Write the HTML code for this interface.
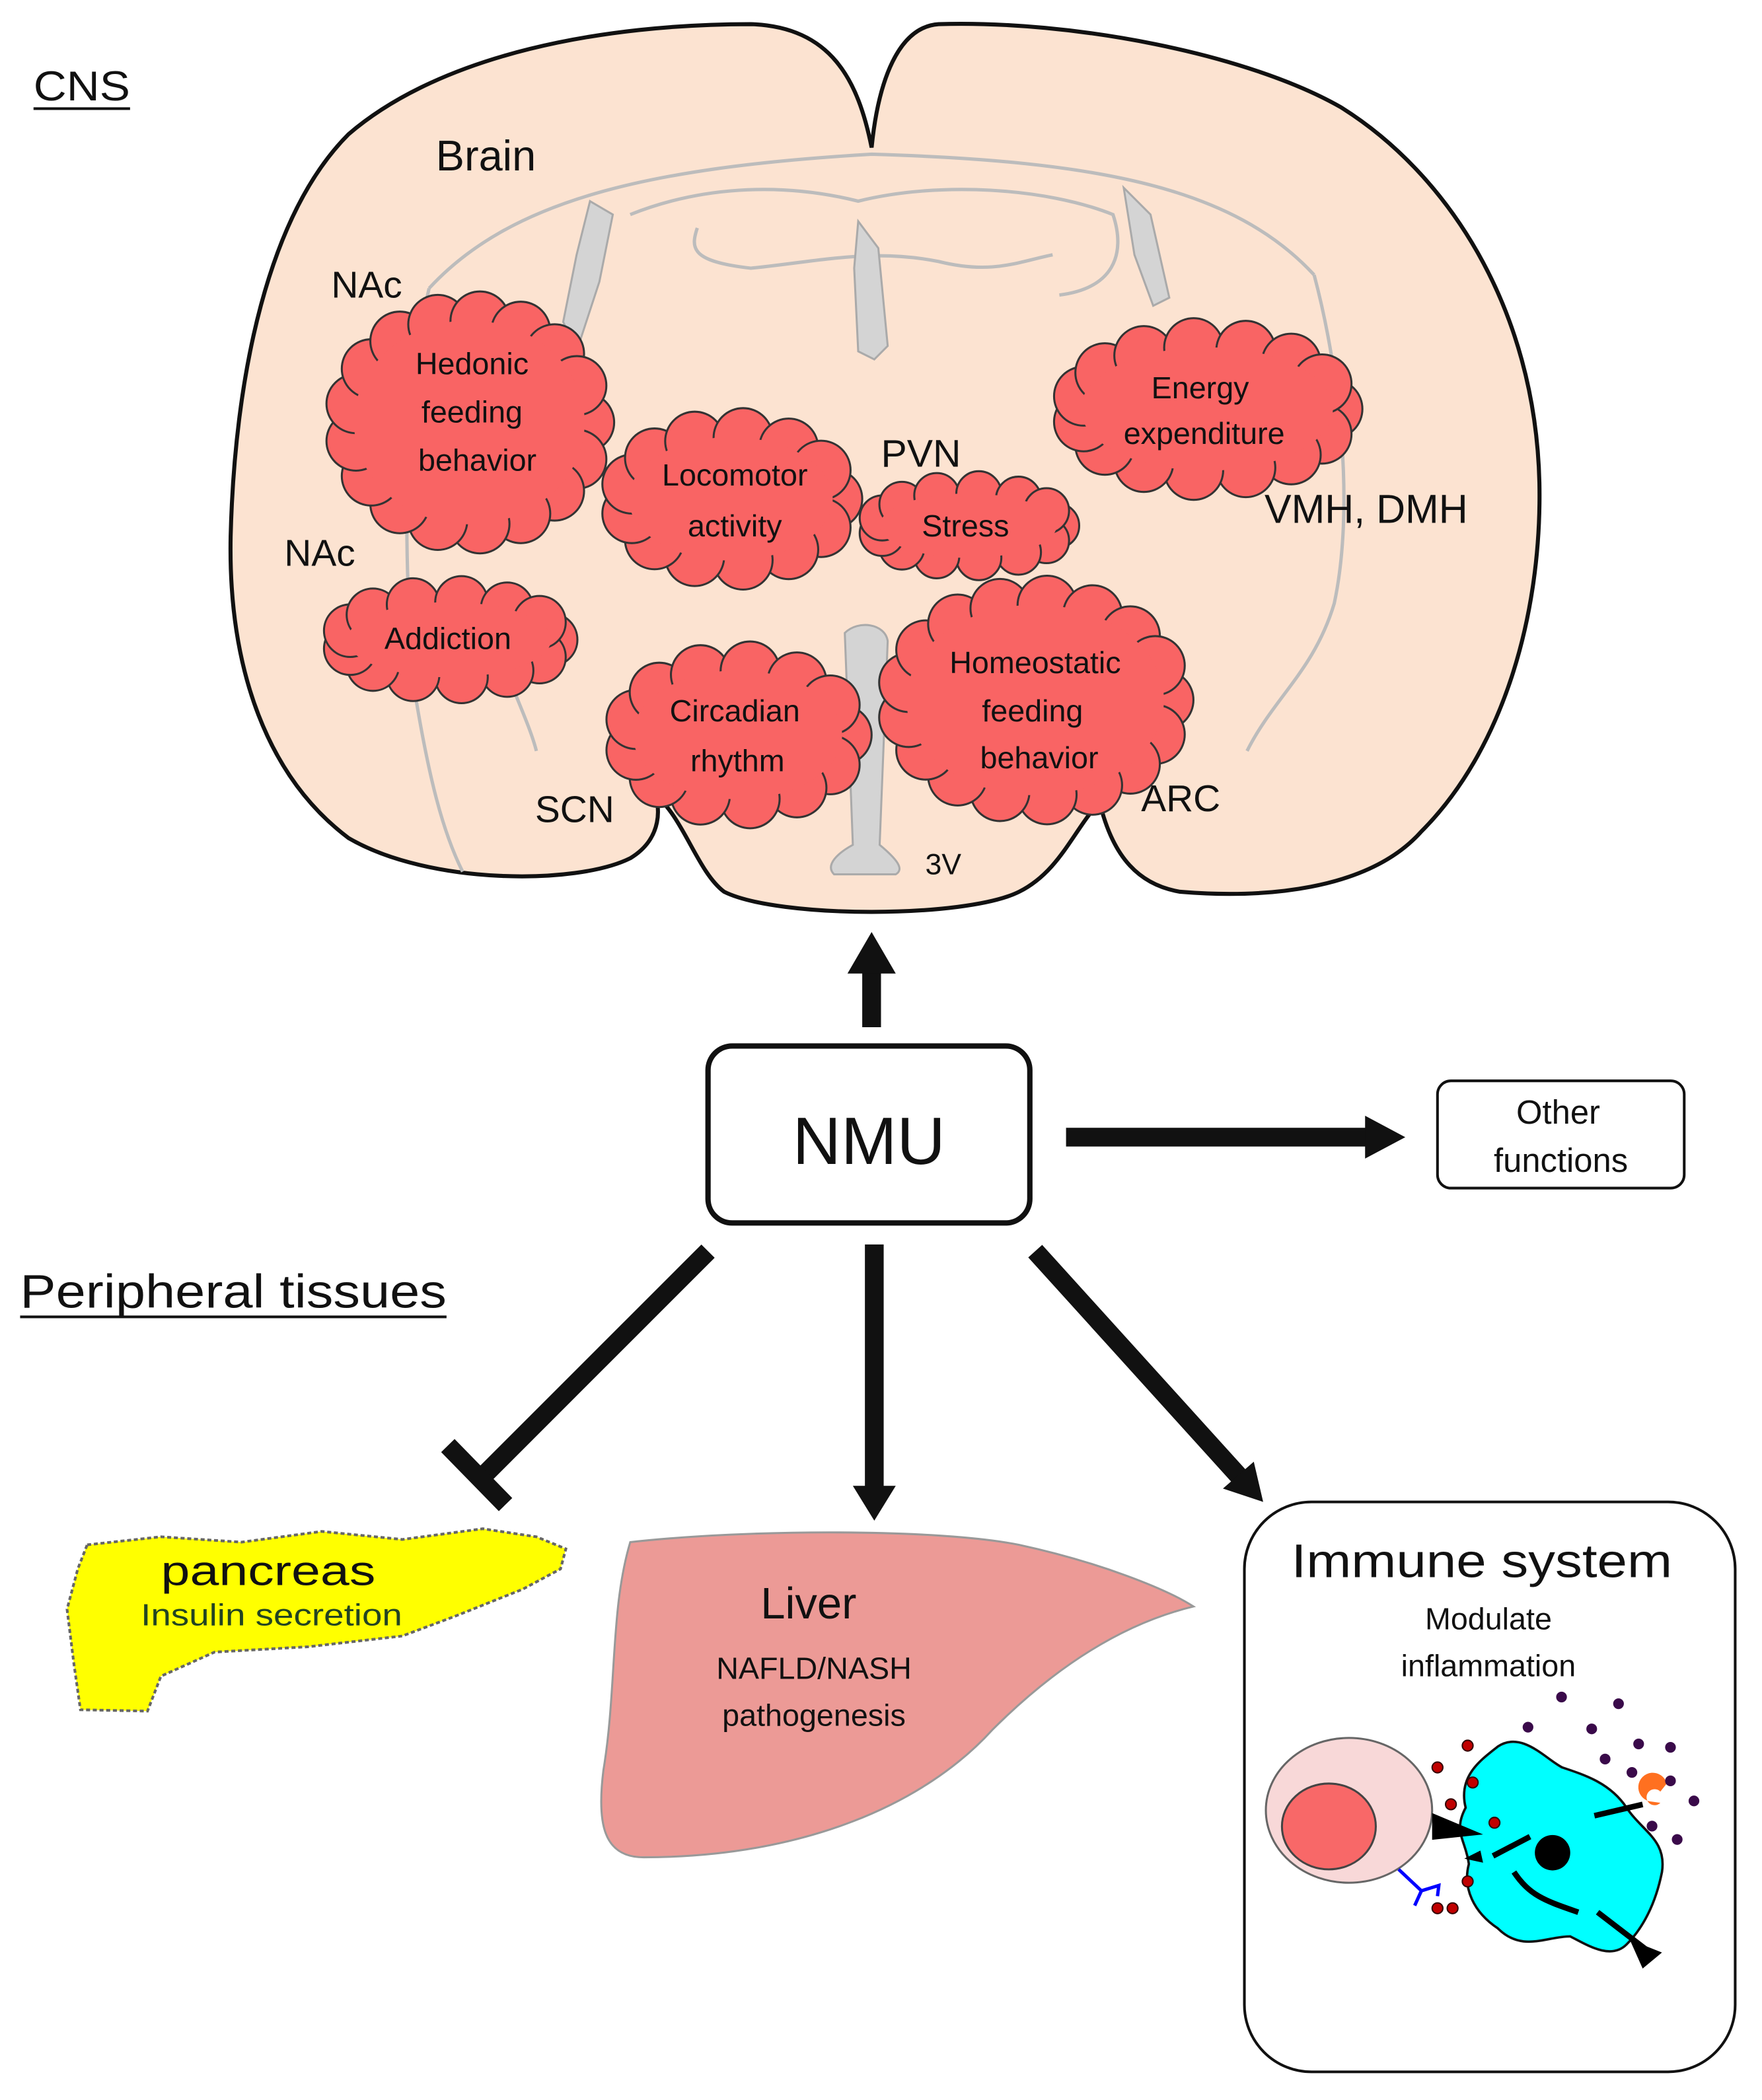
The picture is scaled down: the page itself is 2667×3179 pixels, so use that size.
<!DOCTYPE html>
<html><head><meta charset="utf-8"><style>
html,body{margin:0;padding:0;background:#fff}
svg{display:block}
text{font-family:"Liberation Sans",sans-serif}
</style></head><body>
<svg id="s" width="2667" height="3179" viewBox="0 0 1314 1566" preserveAspectRatio="none" xmlns="http://www.w3.org/2000/svg">
<rect width="1314" height="1566" fill="#fff"/>
<path d="M650,110 C640,60 620,20 560,18 C450,18 330,40 260,100 C200,160 175,280 172,400 C170,500 200,580 260,625 C320,660 430,660 470,640 C495,625 492,600 488,592 C510,610 520,650 540,665 C580,685 720,685 760,665 C790,650 800,620 820,598 C830,640 850,660 880,665 C940,670 1020,665 1060,620 C1120,560 1150,460 1148,360 C1145,230 1080,130 1000,80 C930,40 800,15 700,18 C670,20 655,60 650,110 Z" fill="#fce3d1" stroke="#111" stroke-width="3"/>
<g fill="none" stroke="#bcbcbc" stroke-width="2.5">
<path d="M320,215 C380,150 480,125 650,115 C820,120 920,140 980,205"/>
<path d="M470,160 C520,140 580,135 640,150 C700,135 780,140 830,160 C840,190 830,215 790,220"/>
<path d="M520,170 C515,185 515,195 560,200 C610,195 650,185 700,195 C740,205 760,195 785,190"/>
<path d="M320,215 C300,300 300,420 310,520 C320,580 330,620 345,650"/>
<path d="M980,205 C1000,280 1010,380 995,450 C980,500 950,520 930,560"/>
<path d="M370,480 C380,510 395,540 400,560"/>
</g>
<g fill="#d4d4d4" stroke="#aaa" stroke-width="1.5">
<path d="M440,150 L457,160 L447,210 L430,262 L420,240 L430,190Z"/>
<path d="M640,165 L655,185 L662,258 L652,268 L640,262 L637,200Z"/>
<path d="M838,140 L858,160 L872,222 L860,228 L846,190Z"/>
<path d="M630,472 C640,462 660,465 662,478 L656,630 C668,640 675,648 668,652 L622,652 C615,645 625,636 636,630Z"/>
</g>
<g id="clouds"></g>
<g fill="#111" font-size="23" text-anchor="middle">
<text x="352" y="279">Hedonic</text><text x="352" y="315">feeding</text><text x="356" y="351">behavior</text>
<text x="895" y="297">Energy</text><text x="898" y="331">expenditure</text>
<text x="548" y="362">Locomotor</text><text x="548" y="400">activity</text>
<text x="720" y="400">Stress</text>
<text x="334" y="484">Addiction</text>
<text x="548" y="538">Circadian</text><text x="550" y="575">rhythm</text>
<text x="772" y="502">Homeostatic</text><text x="770" y="538">feeding</text><text x="775" y="573">behavior</text>
</g>
<g fill="#111">
<text x="25" y="75" font-size="31" textLength="72" lengthAdjust="spacingAndGlyphs">CNS</text><rect x="25" y="80" width="72" height="2"/>
<text x="325" y="127" font-size="32">Brain</text>
<text x="247" y="222" font-size="28">NAc</text>
<text x="212" y="422" font-size="28">NAc</text>
<text x="657" y="348" font-size="29">PVN</text>
<text x="943" y="390" font-size="30">VMH, DMH</text>
<text x="399" y="613" font-size="28">SCN</text>
<text x="851" y="605" font-size="28">ARC</text>
<text x="690" y="652" font-size="22">3V</text>
<text x="15" y="975" font-size="35" textLength="318" lengthAdjust="spacingAndGlyphs">Peripheral tissues</text><rect x="15" y="981" width="318" height="2"/>
</g>
<rect x="528" y="780" width="240" height="132" rx="18" fill="#fff" stroke="#111" stroke-width="4"/>
<text x="648" y="868" font-size="50" text-anchor="middle" fill="#111">NMU</text>
<g stroke="#111" stroke-width="14" fill="none">
<line x1="650" y1="766" x2="650" y2="718"/>
<line x1="795" y1="848" x2="1020" y2="848"/>
<line x1="528" y1="933" x2="360" y2="1101"/>
<line x1="334" y1="1078" x2="377" y2="1122"/>
<line x1="652" y1="928" x2="652" y2="1112"/>
<line x1="772" y1="933" x2="925" y2="1102"/>
</g>
<g fill="#111">
<polygon points="632,726 650,695 668,726"/>
<polygon points="1018,832 1048,848 1018,864"/>
<polygon points="636,1108 652,1134 668,1108"/>
<polygon points="912,1110 942,1120 935,1090"/>
</g>
<rect x="1072" y="806" width="184" height="80" rx="10" fill="#fff" stroke="#111" stroke-width="2"/>
<text x="1162" y="838" font-size="25" text-anchor="middle" fill="#111">Other</text>
<text x="1164" y="874" font-size="25" text-anchor="middle" fill="#111">functions</text>
<path d="M65,1152 L120,1146 L180,1150 L240,1142 L300,1148 L360,1140 L400,1146 L422,1155 L418,1170 L390,1185 L340,1205 L300,1220 L230,1228 L160,1232 L120,1250 L110,1276 L60,1275 L55,1240 L50,1200 L58,1170Z" fill="#ffff00" stroke="#666" stroke-width="2" stroke-dasharray="3,2"/>
<text x="120" y="1182" font-size="31" textLength="160" lengthAdjust="spacingAndGlyphs" fill="#111">pancreas</text>
<text x="105" y="1212" font-size="23" textLength="195" lengthAdjust="spacingAndGlyphs" fill="#224422">Insulin secretion</text>
<path d="M470,1150 C560,1140 700,1140 760,1152 C820,1165 870,1185 890,1198 C840,1210 790,1240 740,1290 C690,1345 600,1385 480,1385 C450,1385 445,1360 450,1320 C460,1260 455,1200 470,1150Z" fill="#ec9a96" stroke="#999" stroke-width="1.5"/>
<text x="603" y="1207" font-size="33" text-anchor="middle" fill="#111">Liver</text>
<text x="607" y="1252" font-size="23" text-anchor="middle" fill="#111">NAFLD/NASH</text>
<text x="607" y="1287" font-size="23" text-anchor="middle" fill="#111">pathogenesis</text>
<rect x="928" y="1120" width="366" height="425" rx="50" fill="#fff" stroke="#111" stroke-width="2"/>
<text x="963" y="1176" font-size="35" textLength="284" lengthAdjust="spacingAndGlyphs" fill="#111">Immune system</text>
<text x="1110" y="1215" font-size="23" text-anchor="middle" fill="#111">Modulate</text>
<text x="1110" y="1250" font-size="23" text-anchor="middle" fill="#111">inflammation</text>
<ellipse cx="1006" cy="1350" rx="62" ry="54" fill="#f8d8d8" stroke="#666" stroke-width="1.5"/>
<ellipse cx="991" cy="1362" rx="35" ry="32" fill="#f86868" stroke="#444" stroke-width="1.5"/>
<g transform="translate(1165,1378) scale(1.2) translate(-1160,-1345)">
<path d="M1100,1320 C1095,1300 1110,1290 1120,1282 C1135,1272 1150,1290 1160,1295 C1175,1300 1190,1305 1200,1320 C1210,1335 1225,1340 1222,1360 C1218,1380 1210,1395 1200,1405 C1190,1415 1175,1405 1165,1400 C1150,1400 1135,1410 1120,1395 C1105,1385 1098,1370 1102,1355 C1100,1340 1092,1335 1100,1320Z" fill="#00ffff" stroke="#111" stroke-width="1.5"/>
<circle cx="1154" cy="1348" r="11" fill="#000"/>
<g stroke="#000" stroke-width="3.5" fill="none">
<path d="M1117,1350 L1140,1338"/>
<path d="M1130,1360 C1140,1375 1150,1378 1170,1385"/>
<path d="M1180,1325 L1210,1318"/>
<path d="M1182,1385 L1212,1408"/>
</g>
<path d="M1214,1316 a9,9 0 1 1 11,-11 l-4,5 a5,5 0 1 0 0,7z" fill="#ff7020"/>
<polygon points="1202,1402 1222,1410 1210,1420" fill="#000"/>
</g>
<polygon points="1068,1352 1106,1368 1068,1372" fill="#000"/>
<polygon points="1104,1380 1092,1386 1106,1389" fill="#000"/>
<path d="M1043,1394 L1060,1410 L1055,1421 M1060,1410 L1073,1406 L1072,1414" stroke="#00f" stroke-width="2.5" fill="none"/>
<g id="dots"></g>
</svg>
<script>
var NS="http://www.w3.org/2000/svg";
function el(t,a,p){var e=document.createElementNS(NS,t);for(var k in a)e.setAttribute(k,a[k]);p.appendChild(e);return e;}
var cg=document.getElementById("clouds");
[[350,315,100,90],[900,305,108,60],[545,372,90,60],[722,392,80,38],[335,477,90,42],[550,548,92,62],[772,522,110,85]].forEach(function(c){
 var rx=c[2]-14,ry=c[3]-14,br=Math.min(22,ry*0.7);
 var per=2*Math.PI*Math.sqrt((rx*rx+ry*ry)/2);var n=Math.max(8,Math.round(per/(br*1.4)));
 var g=el("g",{},cg);
 for(var i=0;i<n;i++){var a=i/n*2*Math.PI;el("circle",{cx:c[0]+rx*Math.cos(a),cy:c[1]+ry*Math.sin(a),r:br,fill:"#f96464",stroke:"#333","stroke-width":1.5},g);}
 el("ellipse",{cx:c[0],cy:c[1],rx:rx,ry:ry,fill:"#f96464"},g);
});
var dg=document.getElementById("dots");
function T(x,y){return [922+x*0.25,1138+y*0.25];}
[[970,510],[1140,530],[870,600],[1060,605],[1200,650],[1295,660],[1100,695],[1180,735],[1295,760],[1365,820],[1240,895],[1315,935]].forEach(function(p){var q=T(p[0],p[1]);el("circle",{cx:q[0],cy:q[1],r:4,fill:"#3a0a4a"},dg);});
[[690,655],[600,720],[705,765],[640,830],[770,885],[690,1060],[600,1140],[645,1140]].forEach(function(p){var q=T(p[0],p[1]);el("circle",{cx:q[0],cy:q[1],r:4,fill:"#c00000",stroke:"#300","stroke-width":1},dg);});
</script>
</body></html>
